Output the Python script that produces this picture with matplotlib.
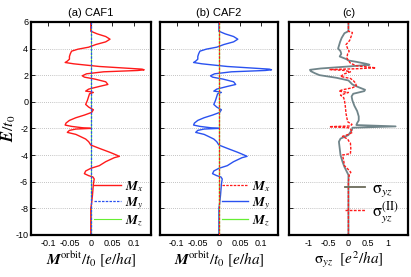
import matplotlib
matplotlib.use("Agg")
import matplotlib.pyplot as plt

# --- data ---
# orbital magnetization curve (same shape in CAF1 M_x and CAF2 M_y)
energy_m = [6.0, 5.3, 5.1, 4.9, 4.7, 4.5, 4.3, 4.1, 3.95, 3.8, 3.6, 3.4, 3.2, 3.05,
            2.95, 2.85, 2.75, 2.65, 2.55, 2.45, 2.4, 2.35, 2.25, 2.1, 1.95, 1.85,
            1.7, 1.5, 1.3, 1.15, 0.95, 0.8, 0.75, 0.7, 0.6, 0.4, 0.1, -0.2, -0.4,
            -0.6, -0.8, -1.0, -1.2, -1.4, -1.6, -1.75, -1.85, -1.95, -2.0, -2.05,
            -2.15, -2.3, -2.45, -2.6, -2.8, -3.0, -3.25, -3.5, -3.8, -4.0, -4.1,
            -4.2, -4.5, -4.8, -5.0, -5.2, -5.4, -5.55, -5.65, -5.8, -6.2, -7.0,
            -7.6, -8.0, -10.0]
m_orbit = [0.0, 0.0, 0.015, 0.035, 0.045, 0.035, 0.012, -0.005, -0.03, -0.045,
           -0.048, -0.05, -0.05, -0.055, -0.06, -0.04, -0.01, 0.02, 0.07, 0.12,
           0.125, 0.11, 0.03, -0.01, -0.02, -0.015, 0.01, 0.035, 0.04, 0.02,
           -0.005, -0.012, 0.0, 0.006, -0.003, -0.005, -0.008, -0.012, -0.005,
           0.006, 0.002, -0.015, -0.035, -0.05, -0.058, -0.06, -0.045, -0.02,
           0.0, -0.035, -0.05, -0.055, -0.035, -0.025, -0.012, -0.005, 0.0, 0.02,
           0.045, 0.06, 0.067, 0.055, 0.035, 0.02, 0.0, -0.012, -0.015, -0.005,
           0.005, 0.008, 0.006, 0.004, 0.002, 0.0, 0.0]
energy_flat = [6.0, -10.0]
m_zero = [0.0, 0.0]

# Hall conductivity
energy_s = [6.0, 5.3, 5.15, 4.8, 4.5, 4.2, 4.0, 3.8, 3.6, 3.4, 3.2, 3.1, 3.0, 2.85,
            2.78, 2.65, 2.5, 2.4, 2.3, 2.15, 2.0, 1.8, 1.6, 1.3, 1.1, 0.9, 0.8, 0.6,
            0.4, 0.1, -0.3, -0.7, -1.1, -1.4, -1.6, -1.75, -1.85, -1.95, -2.1,
            -2.5, -2.77, -3.0, -3.5, -4.0, -4.5, -4.9, -5.5, -10.0]
sigma_yz = [0.0, 0.0, -0.1, -0.17, -0.21, -0.24, -0.26, -0.2, -0.18, -0.22, -0.05,
            0.0, 0.2, 0.45, 0.53, 0.0, -0.7, -0.97, -0.95, -0.85, -0.73, -0.3, 0.0,
            0.1, 0.25, 0.42, 0.4, 0.12, 0.08, 0.1, 0.15, 0.22, 0.26, 0.26, 0.22,
            0.2, 1.19, 0.1, 0.09, 0.0, -0.2, -0.24, -0.22, -0.2, -0.15, -0.1, 0.0,
            0.0]
energy_s2 = [6.0, 5.3, 5.2, 5.0, 4.6, 4.3, 4.0, 3.8, 3.6, 3.3, 3.1, 2.9, 2.7, 2.55,
             2.48, 2.42, 2.35, 2.25, 2.1, 1.9, 1.75, 1.6, 1.4, 1.2, 1.05, 0.9, 0.8,
             0.7, 0.6, 0.5, 0.3, 0.1, -0.3, -0.9, -1.5, -1.7, -1.82, -1.87, -1.95,
             -2.05, -2.3, -2.45, -2.6, -2.8, -3.0, -3.1, -3.5, -3.9, -4.0, -4.4,
             -4.8, -5.1, -5.3, -5.5, -6.0, -10.0]
sigma_yz_II = [0.0, 0.0, 0.1, 0.08, 0.03, -0.06, -0.02, 0.02, -0.02, -0.04, 0.0,
               0.05, 0.2, 0.69, 0.2, -0.48, -0.1, 0.05, -0.1, -0.2, 0.05, 0.12,
               0.18, 0.2, 0.1, -0.15, -0.24, 0.0, -0.1, -0.2, -0.12, -0.1, -0.08,
               -0.06, -0.02, 0.09, 0.05, -0.48, 0.0, 0.05, 0.1, 0.0, -0.15, -0.02,
               0.02, 0.05, 0.06, 0.05, -0.15, -0.12, -0.1, 0.0, 0.06, 0.02, 0.0, 0.0]

m_ticks = [-0.1, -0.05, 0, 0.05, 0.1]
m_ticklabels = ['-0.1', '-0.05', '0', '0.05', '0.1']
s_ticks = [-1, -0.5, 0, 0.5, 1]
s_ticklabels = ['-1', '-0.5', '0', '0.5', '1']
e_ticks = [6, 4, 2, 0, -2, -4, -6, -8, -10]

RED = '#ff1a1a'
BLUE = '#2a52f0'
GREEN = '#66ee33'
GRAY = '#70858a'
OLIVE = '#6b6b5a'

plt.rcParams['font.family'] = ['Liberation Sans', 'DejaVu Sans']
plt.rcParams['mathtext.fontset'] = 'stix'

fig = plt.figure(figsize=(4.11, 2.77), dpi=100)
bottom, height = 0.152, 0.769
ax_a = fig.add_axes([0.0754, bottom, 0.291, height])
ax_b = fig.add_axes([0.389, bottom, 0.287, height])
ax_c = fig.add_axes([0.703, bottom, 0.2895, height])


def style(ax, xlim, ticks, labels, show_y):
    ax.set_xlim(*xlim)
    ax.set_ylim(-10, 6)
    ax.set_xticks(ticks)
    ax.set_xticklabels(labels, fontsize=6.5)
    ax.set_yticks(e_ticks)
    if show_y:
        ax.set_yticklabels([str(t) for t in e_ticks], fontsize=6.5)
    else:
        ax.set_yticklabels([])
    ax.tick_params(axis='x', direction='in', top=True, bottom=False, length=3,
                   width=0.6, pad=3)
    ax.tick_params(axis='y', direction='in', left=True, length=3, width=0.6, pad=2)
    ax.grid(axis='y', color='#b0b0b0', linestyle=(0, (1, 1.5)), linewidth=0.6)
    for sp in ax.spines.values():
        sp.set_linewidth(1.6)


xlabel_m = r'$\mathbfit{M}^{\rm orbit}/t_0\ [e/ha]$'
lab_mx = r'$\mathbfit{M}_x$'
lab_my = r'$\mathbfit{M}_y$'
lab_mz = r'$\mathbfit{M}_z$'
leg_kw = dict(loc='lower right', frameon=False, fontsize=9.5, handlelength=2.0,
              labelspacing=0.1, handletextpad=0.3, borderaxespad=0.15)

# (a) CAF1
style(ax_a, (-0.14, 0.14), m_ticks, m_ticklabels, True)
ax_a.plot(m_orbit, energy_m, color=RED, lw=1.0, label=lab_mx)
ax_a.plot(m_zero, energy_flat, color=BLUE, lw=0.9, ls=(0, (2, 1)), label=lab_my)
ax_a.plot(m_zero, energy_flat, color=GREEN, lw=0.8, zorder=1.5, label=lab_mz)
ax_a.set_title('(a) CAF1', fontsize=8, pad=4)
ax_a.set_xlabel(xlabel_m, fontsize=11, labelpad=1)
ax_a.set_ylabel(r'$\mathbfit{E}/t_0$', fontsize=11.5)
ax_a.yaxis.set_label_coords(-0.11, 0.5)
ax_a.legend(**leg_kw)

# (b) CAF2
style(ax_b, (-0.14, 0.14), m_ticks, m_ticklabels, False)
ax_b.plot(m_zero, energy_flat, color=RED, lw=0.9, ls=(0, (2, 1)), zorder=3,
          label=lab_mx)
ax_b.plot(m_orbit, energy_m, color=BLUE, lw=1.0, label=lab_my)
ax_b.plot(m_zero, energy_flat, color=GREEN, lw=0.9, zorder=2.5, label=lab_mz)
ax_b.set_title('(b) CAF2', fontsize=8, pad=4)
ax_b.set_xlabel(xlabel_m, fontsize=11, labelpad=1)
ax_b.legend(**leg_kw)

# (c) Hall conductivity
style(ax_c, (-1.5, 1.5), s_ticks, s_ticklabels, False)
ax_c.plot(sigma_yz, energy_s, color=GRAY, lw=1.3, label=r'$\mathrm{\sigma}_{yz}$')
ax_c.plot(sigma_yz_II, energy_s2, color=RED, lw=1.0, ls=(0, (2, 1)),
          label=r'$\mathrm{\sigma}_{yz}^{\rm (II)}$')
ax_c.set_title('(c)', fontsize=8, pad=4)
ax_c.set_xlabel(r'$\mathrm{\sigma}_{yz}\ \ [e^2/ha]$', fontsize=11, labelpad=1)
leg = ax_c.legend(loc='lower right', frameon=False, fontsize=12, handlelength=1.2,
                  labelspacing=0.0, handletextpad=0.4, borderaxespad=0.2)
leg.get_lines()[0].set_color(OLIVE)

fig.savefig('out.png', dpi=100)
